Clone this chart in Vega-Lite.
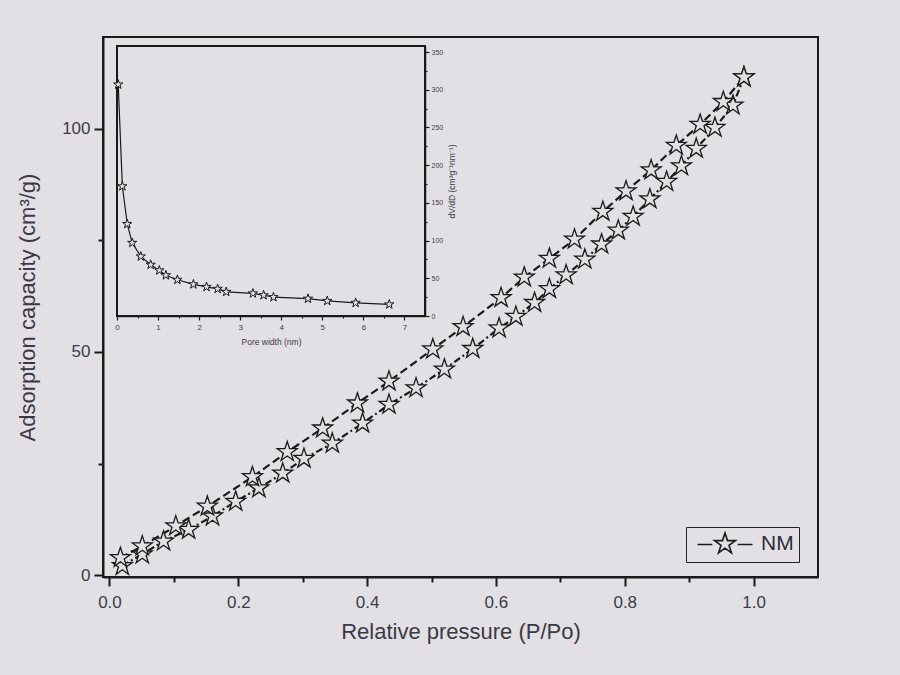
{
  "$schema": "https://vega.github.io/schema/vega-lite/v6.json",
  "width": 715,
  "height": 540,
  "autosize": "none",
  "padding": {"left": 103, "top": 37, "right": 82, "bottom": 98},
  "background": "#e3e0e5",
  "config": {
    "font": "Liberation Sans",
    "view": {"stroke": "#1a1a1a", "strokeWidth": 2},
    "axis": {"grid": false, "domainColor": "#1a1a1a", "tickColor": "#1a1a1a", "labelColor": "#3c3c46", "titleColor": "#3a3a44", "titleFontWeight": "normal"}
  },
  "datasets": {
    "iso": [
      {"branch": "adsorption", "sample": "NM", "p": 0.02, "v": 2.1},
      {"branch": "adsorption", "sample": "NM", "p": 0.051, "v": 4.7},
      {"branch": "adsorption", "sample": "NM", "p": 0.084, "v": 7.6},
      {"branch": "adsorption", "sample": "NM", "p": 0.123, "v": 10.2},
      {"branch": "adsorption", "sample": "NM", "p": 0.16, "v": 13.2},
      {"branch": "adsorption", "sample": "NM", "p": 0.196, "v": 16.5},
      {"branch": "adsorption", "sample": "NM", "p": 0.232, "v": 19.5},
      {"branch": "adsorption", "sample": "NM", "p": 0.269, "v": 22.8},
      {"branch": "adsorption", "sample": "NM", "p": 0.302, "v": 26.1},
      {"branch": "adsorption", "sample": "NM", "p": 0.346, "v": 29.5},
      {"branch": "adsorption", "sample": "NM", "p": 0.393, "v": 34.0},
      {"branch": "adsorption", "sample": "NM", "p": 0.434, "v": 38.2},
      {"branch": "adsorption", "sample": "NM", "p": 0.476, "v": 41.9},
      {"branch": "adsorption", "sample": "NM", "p": 0.52, "v": 46.1},
      {"branch": "adsorption", "sample": "NM", "p": 0.564, "v": 50.7},
      {"branch": "adsorption", "sample": "NM", "p": 0.605, "v": 55.3},
      {"branch": "adsorption", "sample": "NM", "p": 0.631, "v": 57.9},
      {"branch": "adsorption", "sample": "NM", "p": 0.66, "v": 61.0},
      {"branch": "adsorption", "sample": "NM", "p": 0.683, "v": 64.1},
      {"branch": "adsorption", "sample": "NM", "p": 0.709, "v": 67.2},
      {"branch": "adsorption", "sample": "NM", "p": 0.738, "v": 70.7},
      {"branch": "adsorption", "sample": "NM", "p": 0.764, "v": 74.1},
      {"branch": "adsorption", "sample": "NM", "p": 0.79, "v": 77.2},
      {"branch": "adsorption", "sample": "NM", "p": 0.813, "v": 80.3},
      {"branch": "adsorption", "sample": "NM", "p": 0.839, "v": 84.2},
      {"branch": "adsorption", "sample": "NM", "p": 0.865, "v": 88.1},
      {"branch": "adsorption", "sample": "NM", "p": 0.888, "v": 91.6},
      {"branch": "adsorption", "sample": "NM", "p": 0.911, "v": 95.5},
      {"branch": "adsorption", "sample": "NM", "p": 0.94, "v": 100.2},
      {"branch": "adsorption", "sample": "NM", "p": 0.968, "v": 105.2},
      {"branch": "adsorption", "sample": "NM", "p": 0.985, "v": 111.5},
      {"branch": "desorption", "sample": "NM", "p": 0.985, "v": 111.5},
      {"branch": "desorption", "sample": "NM", "p": 0.953, "v": 106.0},
      {"branch": "desorption", "sample": "NM", "p": 0.917, "v": 100.9},
      {"branch": "desorption", "sample": "NM", "p": 0.88, "v": 96.2},
      {"branch": "desorption", "sample": "NM", "p": 0.841, "v": 90.7},
      {"branch": "desorption", "sample": "NM", "p": 0.802, "v": 86.0},
      {"branch": "desorption", "sample": "NM", "p": 0.766, "v": 81.4},
      {"branch": "desorption", "sample": "NM", "p": 0.722, "v": 75.2},
      {"branch": "desorption", "sample": "NM", "p": 0.683, "v": 70.9},
      {"branch": "desorption", "sample": "NM", "p": 0.644, "v": 66.7},
      {"branch": "desorption", "sample": "NM", "p": 0.608, "v": 62.1},
      {"branch": "desorption", "sample": "NM", "p": 0.549, "v": 55.6},
      {"branch": "desorption", "sample": "NM", "p": 0.502, "v": 50.6},
      {"branch": "desorption", "sample": "NM", "p": 0.434, "v": 43.4},
      {"branch": "desorption", "sample": "NM", "p": 0.385, "v": 38.5},
      {"branch": "desorption", "sample": "NM", "p": 0.331, "v": 32.9},
      {"branch": "desorption", "sample": "NM", "p": 0.276, "v": 27.6},
      {"branch": "desorption", "sample": "NM", "p": 0.222, "v": 22.0},
      {"branch": "desorption", "sample": "NM", "p": 0.152, "v": 15.4},
      {"branch": "desorption", "sample": "NM", "p": 0.103, "v": 11.0},
      {"branch": "desorption", "sample": "NM", "p": 0.051, "v": 6.5},
      {"branch": "desorption", "sample": "NM", "p": 0.017, "v": 3.9}
    ],
    "psd": [
      {"w": 0.03, "d": 307},
      {"w": 0.13, "d": 172},
      {"w": 0.25, "d": 122},
      {"w": 0.37, "d": 97},
      {"w": 0.58, "d": 79},
      {"w": 0.82, "d": 68},
      {"w": 1.03, "d": 60.5},
      {"w": 1.19, "d": 54},
      {"w": 1.47, "d": 48},
      {"w": 1.86, "d": 42},
      {"w": 2.18, "d": 38.6},
      {"w": 2.45, "d": 36},
      {"w": 2.66, "d": 32},
      {"w": 3.31, "d": 30},
      {"w": 3.57, "d": 27.6},
      {"w": 3.81, "d": 25},
      {"w": 4.65, "d": 23},
      {"w": 5.12, "d": 20},
      {"w": 5.81, "d": 17.5},
      {"w": 6.63, "d": 15.4}
    ]
  },
  "layer": [
    {
      "data": {"name": "iso"},
      "encoding": {
        "x": {
          "field": "p", "type": "quantitative",
          "scale": {"domain": [-0.01, 1.1], "nice": false, "zero": false},
          "axis": {
            "title": "Relative pressure (P/Po)",
            "values": [0, 0.1, 0.2, 0.3, 0.4, 0.5, 0.6, 0.7, 0.8, 0.9, 1.0],
            "labelExpr": "round(datum.value*10) % 2 == 0 ? format(datum.value, '.1f') : ''",
            "tickSize": {"condition": {"test": "round(datum.value*10) % 2 == 0", "value": 9}, "value": 5},
            "tickWidth": 2, "domainWidth": 2,
            "labelFontSize": 17, "labelPadding": 8, "labelFlush": false,
            "titleFontSize": 22, "titlePadding": 11
          }
        },
        "y": {
          "field": "v", "type": "quantitative",
          "scale": {"domain": [-0.4, 120.5], "nice": false, "zero": false},
          "axis": {
            "title": "Adsorption capacity (cm³/g)",
            "values": [0, 25, 50, 75, 100],
            "labelExpr": "datum.value % 50 == 0 ? datum.label : ''",
            "tickSize": {"condition": {"test": "datum.value % 50 == 0", "value": 9}, "value": 5},
            "tickWidth": 2, "domainWidth": 2,
            "labelFontSize": 17, "labelPadding": 4, "labelFlush": false,
            "titleFontSize": 22, "titlePadding": 22
          }
        }
      },
      "layer": [
        {
          "mark": {"type": "line", "strokeWidth": 2.2},
          "encoding": {
            "order": {"field": "p", "type": "quantitative"},
            "color": {
              "field": "sample", "type": "nominal",
              "scale": {"range": ["#1a1a1a"]},
              "legend": {
                "title": null,
                "orient": "none", "legendX": 583, "legendY": 490,
                "padding": 5, "strokeColor": "#222", "fillColor": null,
                "symbolType": "M-2.5,0.05L-1.15,0.05M1.15,0.05L2.5,0.05M0,-1L0.2245,-0.309L0.9511,-0.309L0.3633,0.118L0.5878,0.809L0,0.382L-0.5878,0.809L-0.3633,0.118L-0.9511,-0.309L-0.2245,-0.309Z",
                "symbolSize": 484, "symbolOffset": 22, "symbolStrokeWidth": 1.6,
                "symbolFillColor": "#e3e0e5", "symbolStrokeColor": "#1a1a1a",
                "labelOffset": 24, "labelFontSize": 21, "labelColor": "#2e2e38"
              }
            },
            "strokeDash": {
              "field": "branch", "type": "nominal",
              "scale": {"domain": ["adsorption", "desorption"], "range": [[7, 3, 2, 3], [8, 4]]},
              "legend": null
            }
          }
        },
        {
          "mark": {
            "type": "point",
            "shape": "M0,-1L0.2245,-0.309L0.9511,-0.309L0.3633,0.118L0.5878,0.809L0,0.382L-0.5878,0.809L-0.3633,0.118L-0.9511,-0.309L-0.2245,-0.309Z",
            "size": 440, "filled": false, "fill": "#e3e0e5", "fillOpacity": 1,
            "stroke": "#1a1a1a", "strokeWidth": 1.3, "opacity": 1
          }
        }
      ]
    },
    {
      "data": {"name": "psd"},
      "encoding": {
        "x": {
          "field": "w", "type": "quantitative",
          "scale": {"domain": [0, 7.5], "range": [14, 322], "nice": false, "zero": false},
          "axis": {
            "orient": "bottom", "offset": -261,
            "title": "Pore width (nm)",
            "values": [0, 0.5, 1, 1.5, 2, 2.5, 3, 3.5, 4, 4.5, 5, 5.5, 6, 6.5, 7],
            "labelExpr": "datum.value % 1 == 0 ? format(datum.value, 'd') : ''",
            "tickSize": {"condition": {"test": "datum.value % 1 == 0", "value": 4}, "value": 2},
            "tickWidth": 1.2, "domainWidth": 1.5,
            "labelFontSize": 8, "labelPadding": 3, "labelFlush": false,
            "titleFontSize": 8.5, "titlePadding": 6
          }
        },
        "y": {
          "field": "d", "type": "quantitative",
          "scale": {"domain": [0, 358], "range": [279, 9], "nice": false, "zero": false},
          "axis": {
            "orient": "right", "offset": -393,
            "title": "dV/dD (cm³g⁻¹nm⁻¹)", "titleAngle": 270,
            "values": [0, 25, 50, 75, 100, 125, 150, 175, 200, 225, 250, 275, 300, 325, 350],
            "labelExpr": "datum.value % 50 == 0 ? datum.label : ''",
            "tickSize": {"condition": {"test": "datum.value % 50 == 0", "value": 4}, "value": 2},
            "tickWidth": 1.2, "domainWidth": 1.5,
            "labelFontSize": 7, "labelPadding": 2, "labelFlush": false,
            "titleFontSize": 8.5, "titlePadding": 14
          }
        }
      },
      "layer": [
        {
          "mark": {"type": "rect", "fill": null, "stroke": "#1a1a1a", "strokeWidth": 1.5},
          "encoding": {
            "x": {"datum": 0},
            "x2": {"datum": 7.5},
            "y": {"datum": 0},
            "y2": {"datum": 358}
          }
        },
        {
          "mark": {"type": "line", "color": "#1a1a1a", "strokeWidth": 1.2},
          "encoding": {"order": {"field": "w", "type": "quantitative"}}
        },
        {
          "mark": {
            "type": "point",
            "shape": "M0,-1L0.2245,-0.309L0.9511,-0.309L0.3633,0.118L0.5878,0.809L0,0.382L-0.5878,0.809L-0.3633,0.118L-0.9511,-0.309L-0.2245,-0.309Z",
            "size": 95, "filled": false, "fill": "#e3e0e5", "fillOpacity": 1,
            "stroke": "#1a1a1a", "strokeWidth": 1, "opacity": 1
          }
        }
      ]
    }
  ],
  "resolve": {
    "scale": {"x": "independent", "y": "independent", "color": "independent"},
    "axis": {"x": "independent", "y": "independent"}
  }
}
